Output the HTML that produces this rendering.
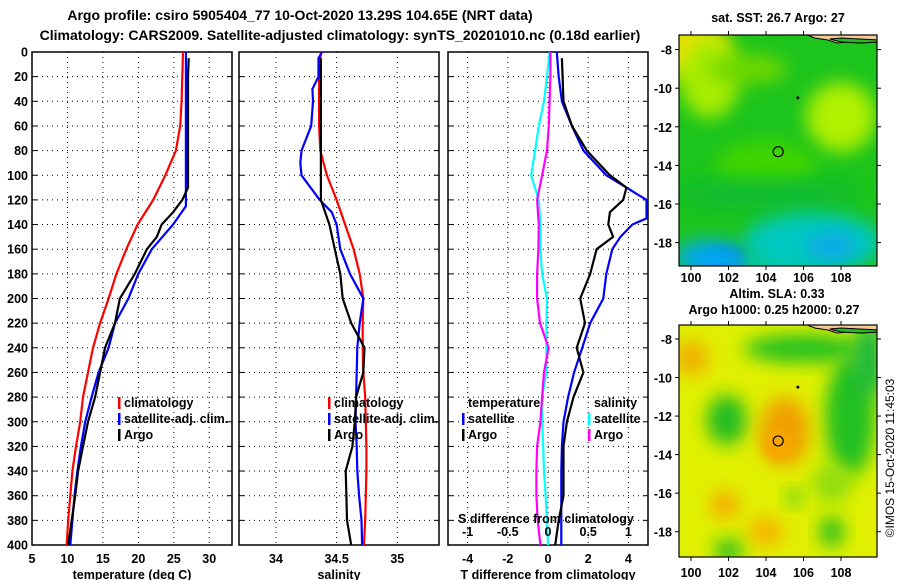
<!DOCTYPE html>
<html><head><meta charset="utf-8"><style>
body{margin:0;background:#fff}
svg{display:block;font-family:"Liberation Sans",sans-serif;font-weight:bold}
text{font-size:12.5px;fill:#000}
</style></head><body>
<svg id="c" width="900" height="580" viewBox="0 0 900 580">
<defs>
<clipPath id="cp1"><rect x="32" y="52" width="200" height="493"/></clipPath>
<clipPath id="cp2"><rect x="239" y="52" width="200" height="493"/></clipPath>
<clipPath id="cp3"><rect x="448" y="52" width="200" height="493"/></clipPath>
<clipPath id="cm1"><rect x="679" y="35" width="198" height="231"/></clipPath>
<clipPath id="cm2"><rect x="679" y="325" width="198" height="232"/></clipPath>
<filter id="bl" x="-50%" y="-50%" width="200%" height="200%"><feGaussianBlur stdDeviation="9"/></filter>
<filter id="bl2" x="-50%" y="-50%" width="200%" height="200%"><feGaussianBlur stdDeviation="5"/></filter>
</defs>
<text x="300" y="20" text-anchor="middle" style="font-size:14px">Argo profile: csiro 5905404_77 10-Oct-2020 13.29S 104.65E (NRT data)</text>
<text x="340" y="40" text-anchor="middle" style="font-size:14px">Climatology: CARS2009. Satellite-adjusted climatology: synTS_20201010.nc (0.18d earlier)</text>
<g id="g"></g>
</svg>
<script>
// ---- data ----
const depthStd = [0,20,40,60,80,100,120,140,160,180,200,220,240,260,280,300,320,340,360,380,400];
const tempClim = [26.3,26.2,26.1,25.9,25.3,23.8,22.1,19.9,18.3,16.9,15.8,14.6,13.6,12.9,12.2,11.8,11.2,10.7,10.4,10.1,9.9];
const tempSatDepth = [0,20,40,60,80,100,120,125,140,160,180,200,220,240,260,280,300,320,340,360,380,400];
const tempSat = [26.7,26.7,26.7,26.7,26.7,26.7,26.7,26.7,24.9,21.9,20,18.6,16.7,15.8,14.4,13.4,12.5,11.9,11.4,11,10.7,10.4];
const argoDepth = [5,20,40,60,80,100,110,120,130,140,150,160,180,200,220,240,260,280,300,320,340,360,380,400];
const tempArgo = [27.1,27.0,27.0,27.0,27.0,27.0,27.0,26.2,24.9,23.3,22.6,21.2,19.5,17.4,16.7,15.3,14.6,13.9,12.9,12.2,11.5,11.1,10.6,10.1];
const salClim = [34.37,34.355,34.355,34.355,34.365,34.42,34.5,34.57,34.64,34.69,34.72,34.715,34.715,34.72,34.735,34.74,34.745,34.745,34.74,34.735,34.725];
const salSatDepth = [0,5,20,30,40,60,80,90,100,120,130,140,160,180,200,220,240,260,280,300,320,340,360,380,400];
const salSat = [34.38,34.35,34.35,34.3,34.305,34.29,34.21,34.2,34.21,34.36,34.46,34.5,34.53,34.61,34.72,34.69,34.67,34.665,34.66,34.655,34.665,34.67,34.685,34.705,34.71];
const salArgoDepth = [5,40,80,120,140,160,180,200,220,240,260,280,300,320,340,360,380,400];
const salArgo = [34.37,34.37,34.37,34.37,34.44,34.485,34.53,34.55,34.62,34.73,34.72,34.66,34.65,34.63,34.575,34.58,34.585,34.62];
const dTSatDepth = [0,20,40,60,80,100,110,120,135,140,150,160,180,200,220,240,260,280,300,320,340,360,380,400];
const dTSat = [0.44,0.53,0.69,1.19,1.76,2.9,3.9,4.9,4.9,4.2,3.6,3.2,2.9,2.75,2.1,1.7,1.3,1.0,0.77,0.69,0.66,0.66,0.66,0.66];
const dTArgoDepth = [5,40,60,80,100,110,120,130,140,150,160,180,200,220,240,260,280,300,320,340,360,380,400];
const dTArgo = [0.69,0.77,1.19,1.93,3.08,3.9,3.74,3.08,3.0,3.24,2.42,2.1,1.6,1.84,1.43,1.76,1.27,0.94,0.77,0.77,0.77,0.53,0.36];
const dSSat = [0.02,-0.012,-0.05,-0.115,-0.16,-0.21,-0.115,-0.095,-0.095,-0.074,-0.012,-0.02,-0.02,-0.02,-0.074,-0.074,-0.06,-0.05,-0.03,-0.012,0];
const dSArgo = [0.03,0.03,0.02,0.01,-0.012,-0.074,-0.136,-0.115,-0.12,-0.136,-0.136,-0.1,0.008,-0.05,-0.074,-0.095,-0.136,-0.144,-0.144,-0.128,-0.095];
const depthTicks = [0,20,40,60,80,100,120,140,160,180,200,220,240,260,280,300,320,340,360,380,400];
const tempTicks = [5,10,15,20,25,30];
const salTicks = [34,34.5,35];
const salTickLabels = ["34","34.5","35"];
const dTTicks = [-4,-2,0,2,4];
const dSTicks = [-1,-0.5,0,0.5,1];
const dSTickLabels = ["-1","-0.5","0","0.5","1"];
const lonTicks = [100,102,104,106,108];
const latTicks = [-8,-10,-12,-14,-16,-18];
const argoPos = [104.65,-13.29];

// ---- scales ----
const yD = d => 52 + d*1.2325;
const xT = t => 32 + (t-5)*7.09;
const xS = s => 276 + (s-34)*121.3;
const xDT = t => 548 + t*20.1;
const xDS = s => 548 + s*80.4;
const xLon = l => 691 + (l-100)*18.75;
const yLat1 = l => 49.6 + (-8-l)*19.3;
const yLat2 = l => 339 + (-8-l)*19.27;

const NS="http://www.w3.org/2000/svg";
const G=document.getElementById('g');
function mk(tag,attrs,parent){const e=document.createElementNS(NS,tag);for(const k in attrs)e.setAttribute(k,attrs[k]);(parent||G).appendChild(e);return e;}
function txt(x,y,s,anchor,parent,extra){const e=mk('text',Object.assign({x:x,y:y,'text-anchor':anchor||'middle'},extra||{}),parent);e.textContent=s;return e;}

function panel(x0,name,xf,ticks,labels,cp){
  const g=mk('g',{});
  
  
  depthTicks.forEach(d=>{const y=yD(d);mk('line',{x1:x0,x2:x0+200,y1:y,y2:y,stroke:'#000','stroke-width':1,'stroke-dasharray':'1,4'},g);
    mk('line',{x1:x0,x2:x0+5,y1:y,y2:y,stroke:'#000'},g);mk('line',{x1:x0+195,x2:x0+200,y1:y,y2:y,stroke:'#000'},g);});
  ticks.forEach((t,i)=>{const x=xf(t);mk('line',{x1:x,x2:x,y1:52,y2:545,stroke:'#000','stroke-dasharray':'1,4'},g);
    const lab=txt(x,563,labels[i],'middle',g);
    
    });
  mk('rect',{x:x0,y:52,width:200,height:493,fill:'none',stroke:'#000','stroke-width':1.5},g);
  return g;
}
function line(xs,ds,xf,color,name,cp){
  const pts=xs.map((v,i)=>xf(v).toFixed(1)+','+yD(ds[i]).toFixed(1)).join(' ');
  const p=mk('polyline',{points:pts,fill:'none',stroke:color,'stroke-width':2.2,'clip-path':'url(#'+cp+')'});
  
  
}
// y tick labels
depthTicks.forEach(d=>{const t=txt(28,yD(d)+4.5,String(d),'end');
  
  });

panel(32,'temperature-panel',xT,tempTicks,tempTicks.map(String));
panel(239,'salinity-panel',xS,salTicks,salTickLabels);
panel(448,'difference-panel',xDT,dTTicks,dTTicks.map(String));

line(tempClim,depthStd,xT,'#f00','temp-climatology-line','cp1');
line(tempSat,tempSatDepth,xT,'#00f','temp-satellite-line','cp1');
line(tempArgo,argoDepth,xT,'#000','temp-argo-line','cp1');
line(salClim,depthStd,xS,'#f00','sal-climatology-line','cp2');
line(salSat,salSatDepth,xS,'#00f','sal-satellite-line','cp2');
line(salArgo,salArgoDepth,xS,'#000','sal-argo-line','cp2');
line(dSSat,depthStd,xDS,'#0ff','sdiff-satellite-line','cp3');
line(dSArgo,depthStd,xDS,'#f0f','sdiff-argo-line','cp3');
line(dTSat,dTSatDepth,xDT,'#00f','tdiff-satellite-line','cp3');
line(dTArgo,dTArgoDepth,xDT,'#000','tdiff-argo-line','cp3');

// S diff ticks
dSTicks.forEach((s,i)=>{const t=txt(xDS(s),536,dSTickLabels[i]);
  
  });
txt(546,523,'S difference from climatology','middle',G,{});
txt(132,579,'temperature (deg C)','middle',G,{});
txt(339,579,'salinity','middle',G,{});
txt(548,579,'T difference from climatology','middle',G,{});

// legends
function leg(x,y,color,label,name){
  const g=mk('g',{});
  
  
  if(color) mk('rect',{x:x,y:y-10,width:2.5,height:12,fill:color},g);
  txt(x+6,y,label,'start',g);
}
[[118,'climatology','#f00'],[118,'satellite-adj. clim.','#00f'],[118,'Argo','#000']].forEach((l,i)=>leg(l[0],407+i*16,l[2],l[1],'temp-legend-entry'));
[[328,'climatology','#f00'],[328,'satellite-adj. clim.','#00f'],[328,'Argo','#000']].forEach((l,i)=>leg(l[0],407+i*16,l[2],l[1],'sal-legend-entry'));
leg(462,407,null,'temperature','diff-legend-temperature-header');
leg(462,423,'#00f','satellite','diff-legend-temp-satellite');
leg(462,439,'#000','Argo','diff-legend-temp-argo');
leg(588,407,null,'salinity','diff-legend-salinity-header');
leg(588,423,'#0ff','satellite','diff-legend-sal-satellite');
leg(588,439,'#f0f','Argo','diff-legend-sal-argo');

// maps
function map(top,h,yl,name,blobs,base,cp,xLabY){
  const g=mk('g',{});
  
  
  const inner=mk('g',{'clip-path':'url(#'+cp+')'},g);
  mk('rect',{x:679,y:top,width:198,height:h,fill:base},inner);
  blobs.forEach(b=>mk('ellipse',{cx:xLon(b[0]),cy:yl(b[1]),rx:b[2],ry:b[3],fill:b[4],filter:b[5]||'url(#bl)'},inner));
  // land
  mk('path',{d:`M${xLon(106.2)},${top} L${xLon(106.6)},${top+3} L${xLon(107.3)},${top+5} L${xLon(107.8)},${top+8} L${xLon(108.4)},${top+7} L${xLon(109)},${top+8} L${xLon(110)},${top+7} L${xLon(110)},${top} Z`,fill:'#f8c898',stroke:'#000','stroke-width':1},inner);
  mk('path',{d:`M${xLon(107.4)},${top+4} L${xLon(108)},${top+3} L${xLon(109)},${top+4} L${xLon(110)},${top+5} L${xLon(110)},${top+7} L${xLon(109)},${top+8} L${xLon(108)},${top+7} Z`,fill:'#22bb22',stroke:'#000','stroke-width':1},inner);
  mk('rect',{x:679,y:top,width:198,height:h,fill:'none',stroke:'#000','stroke-width':1.2},g);
  mk('circle',{cx:xLon(argoPos[0]),cy:yl(argoPos[1]),r:5,fill:'none',stroke:'#000','stroke-width':1.2},g);
  mk('circle',{cx:xLon(105.7),cy:yl(-10.5),r:1.5,fill:'#000'},g);
  latTicks.forEach(l=>{const y=yl(l);mk('line',{x1:679,x2:675,y1:y,y2:y,stroke:'#000'},g);mk('line',{x1:877,x2:881,y1:y,y2:y,stroke:'#000'},g);
    const t=txt(672,y+5,String(l),'end',g);});
  lonTicks.forEach(l=>{const x=xLon(l);mk('line',{x1:x,x2:x,y1:top+h,y2:top+h+4,stroke:'#000'},g);mk('line',{x1:x,x2:x,y1:top,y2:top-4,stroke:'#000'},g);
    const t=txt(x,xLabY,String(l),'middle',g);});
}
map(35,231,yLat1,'sst-map',[
  [100,-8,40,30,'#e8e000'],[101,-9.5,30,40,'#a8ec00'],[108,-11.5,35,35,'#b0f000'],[103,-9,40,15,'#70d800'],
  [104,-14,50,25,'#40d400'],[104,-15.5,90,15,'#10bc30'],[106.5,-18,70,30,'#00c8c0'],
  [101.7,-19,22,14,'#0a60e0','url(#bl2)'],[101,-18.8,35,18,'#00a8f0'],[107.5,-18.2,25,14,'#10a8e8'],[104,-19.3,40,8,'#00c8c8']
],'#1cc41c','cm1',282);
map(325,232,yLat2,'sla-map',[
  [101.9,-12.2,20,25,'#20bc20'],[106,-8.5,60,14,'#20c020'],[108.5,-12,25,60,'#20c020'],[109.5,-9,15,40,'#18b840'],
  [105,-12.8,25,35,'#f0a000'],[104.6,-13.5,15,15,'#f8a800','url(#bl2)'],[100,-9,18,18,'#f0b000'],[101.8,-16.6,14,14,'#f8a800'],[104,-18,18,14,'#f8b000'],
  [102,-19,14,12,'#20bc20'],[107.5,-18,12,15,'#20bc20'],[105.5,-16.2,8,8,'#40c820'],[107.5,-15.5,20,20,'#90dc10']
],'#e0f000','cm2',577);
txt(778,22,'sat. SST: 26.7 Argo: 27','middle',G,{});
txt(777,298,'Altim. SLA: 0.33','middle',G,{});
txt(774,314,'Argo h1000: 0.25 h2000: 0.27','middle',G,{});
txt(0,0,'©IMOS 15-Oct-2020 11:45:03','middle',G,{transform:'translate(894,458) rotate(-90)','style':'font-weight:normal;font-size:12px',});
</script>
</body></html>
